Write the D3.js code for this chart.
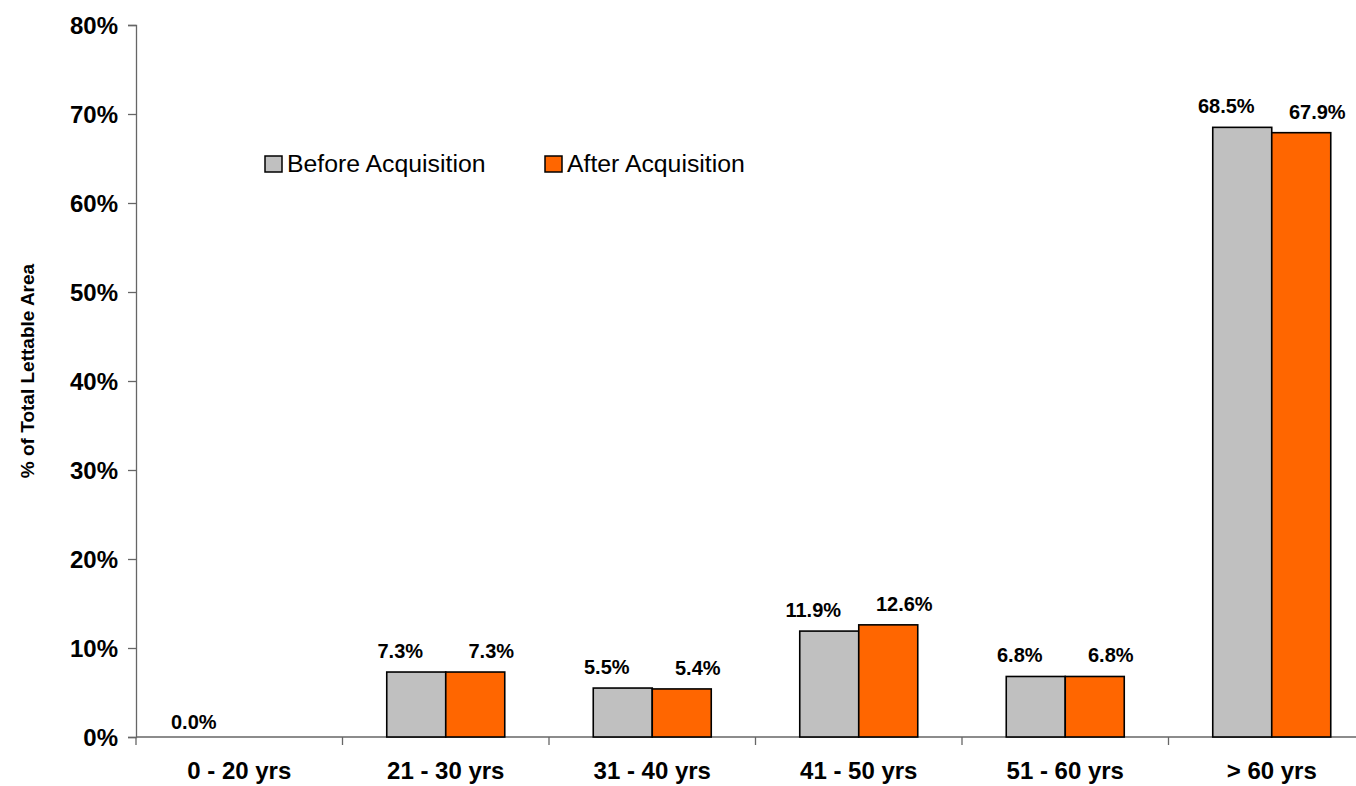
<!DOCTYPE html>
<html>
<head>
<meta charset="utf-8">
<script src="https://cdn.jsdelivr.net/npm/d3@7"></script>
<style>
  html, body { margin: 0; padding: 0; background: #fff; overflow: hidden; }
  text { font-family: "Liberation Sans", Arial, sans-serif; }
</style>
</head>
<body>
<svg id="chart" width="1356" height="786"></svg>
<script>
// categorias y valores (% de area arrendable)
const categories = ["0 - 20 yrs", "21 - 30 yrs", "31 - 40 yrs", "41 - 50 yrs", "51 - 60 yrs", "> 60 yrs"];
const seriesNames = ["Before Acquisition", "After Acquisition"];
const before = [0.0, 7.3, 5.5, 11.9, 6.8, 68.5];
const after = [null, 7.3, 5.4, 12.6, 6.8, 67.9];
const yTicks = [0, 10, 20, 30, 40, 50, 60, 70, 80];
const colors = ["#c0c0c0", "#ff6600"];

const svg = d3.select("#chart");

// escalas
const x0 = d3.scaleBand().domain(categories).range([136, 1375]).padding(0);
const x1 = d3.scaleBand().domain(seriesNames).range([0, x0.bandwidth()])
  .paddingInner(0).paddingOuter(0.75);
const y = d3.scaleLinear().domain([0, 80]).range([737, 25]);

const axisColor = "#666";

// eje y
const yAxis = svg.append("g")
  .attr("transform", "translate(136,0)")
  .call(d3.axisLeft(y).tickValues(yTicks).tickSize(8).tickPadding(10).tickFormat(d => d + "%"));
yAxis.select(".domain").attr("stroke", axisColor).attr("stroke-width", 1.3);
yAxis.selectAll(".tick line").attr("stroke", axisColor).attr("stroke-width", 1.3);
yAxis.selectAll("text")
  .attr("fill", "#000")
  .style("font-size", "24px")
  .style("font-weight", "bold")
  .attr("dy", "0.35em");

// eje x (linea base + marcas entre categorias)
svg.append("line")
  .attr("x1", 136).attr("x2", 1375)
  .attr("y1", y(0)).attr("y2", y(0))
  .attr("stroke", axisColor).attr("stroke-width", 1.3);

svg.selectAll(".xtick")
  .data(categories)
  .enter()
  .append("line")
  .attr("class", "xtick")
  .attr("x1", d => x0(d)).attr("x2", d => x0(d))
  .attr("y1", y(0)).attr("y2", y(0) + 8)
  .attr("stroke", axisColor).attr("stroke-width", 1.3);

svg.selectAll(".xlabel")
  .data(categories)
  .enter()
  .append("text")
  .attr("class", "xlabel")
  .attr("x", d => x0(d) + x0.bandwidth() / 2)
  .attr("y", 779)
  .attr("text-anchor", "middle")
  .style("font-size", "24px")
  .style("font-weight", "bold")
  .text(d => d);

// titulo eje y
svg.append("text")
  .attr("transform", "translate(34,371) rotate(-90)")
  .attr("text-anchor", "middle")
  .style("font-size", "19px")
  .style("font-weight", "bold")
  .text("% of Total Lettable Area");

// barras
const rows = categories.map((c, i) => ({ cat: c, values: [before[i], after[i]] }));

const groups = svg.selectAll(".grp")
  .data(rows)
  .enter()
  .append("g")
  .attr("class", "grp")
  .attr("transform", d => `translate(${x0(d.cat)},0)`);

groups.selectAll("rect")
  .data(d => d.values.map((v, j) => ({ s: seriesNames[j], j: j, v: v })).filter(e => e.v !== null && e.v > 0))
  .enter()
  .append("rect")
  .attr("x", d => x1(d.s))
  .attr("y", d => y(d.v))
  .attr("width", x1.bandwidth())
  .attr("height", d => y(0) - y(d.v))
  .attr("fill", d => colors[d.j])
  .attr("stroke", "#000")
  .attr("stroke-width", 1.6);

// etiquetas de valores
groups.selectAll(".val")
  .data(d => d.values.map((v, j) => ({ s: seriesNames[j], j: j, v: v })).filter(e => e.v !== null))
  .enter()
  .append("text")
  .attr("class", "val")
  .attr("x", d => x1(d.s) + x1.bandwidth() / 2 + (d.j === 0 ? -16 : 16))
  .attr("y", d => y(d.v) - (d.v === 0 ? 8 : 14))
  .attr("text-anchor", "middle")
  .style("font-size", "20px")
  .style("font-weight", "bold")
  .text(d => d.v.toFixed(1) + "%");

// leyenda
const legend = svg.selectAll(".legend")
  .data(seriesNames)
  .enter()
  .append("g")
  .attr("class", "legend")
  .attr("transform", (d, i) => `translate(${i === 0 ? 265 : 545},156)`);

legend.append("rect")
  .attr("width", 17).attr("height", 16)
  .attr("fill", (d, i) => colors[i])
  .attr("stroke", "#000")
  .attr("stroke-width", 1.5);

legend.append("text")
  .attr("x", 22)
  .attr("y", 16)
  .style("font-size", "24.8px")
  .text(d => d);
</script>
</body>
</html>
